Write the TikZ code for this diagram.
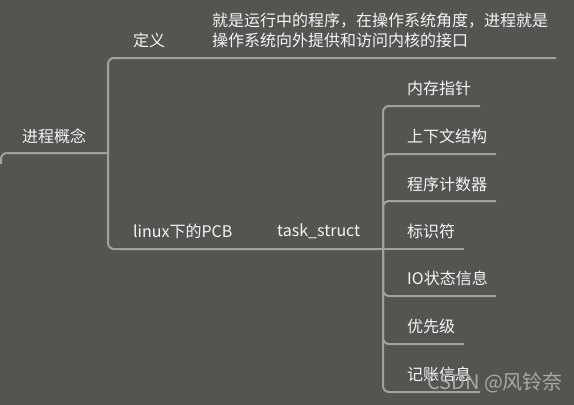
\documentclass[tikz,border=0pt]{standalone}
\usepackage{fontspec}
\setmainfont{Noto Sans CJK SC}
\definecolor{bgc}{HTML}{545551}
\definecolor{linec}{HTML}{A0A29E}
\definecolor{txtc}{HTML}{F4F4F4}
\definecolor{wmc}{HTML}{A9AAA7}
\begin{document}
\begin{tikzpicture}[x=1pt,y=-1pt,
  conn/.style={draw=linec,line width=2pt,rounded corners=6pt},
  lbl/.style={anchor=west,inner sep=0pt,text=txtc,font=\fontsize{16}{20}\selectfont}]
\fill[bgc] (0,0) rectangle (574,405);
\useasboundingbox (0,0) rectangle (574,405);
% root
\node[lbl] (root) at (22,136) {进程概念};
\coordinate (rs) at (1,164);
\coordinate (J1) at (108,153);
\draw[conn] (rs) |- (J1);
% definition branch
\node[lbl] (def) at (133,40) {定义};
\node[lbl,align=left] (deftext) at (212,30) {就是运行中的程序，在操作系统角度，进程就是\\操作系统向外提供和访问内核的接口};
\coordinate (defend) at (556,58);
\draw[conn] (J1) |- (defend);
% PCB branch
\node[lbl] (pcb) at (133,231) {linux下的PCB};
\node[lbl] (task) at (277,231) {task\_struct};
\coordinate (J2) at (383,249);
\draw[conn] (J1) |- (J2);
% children
\node[lbl] (c1) at (407,88) {内存指针};
\node[lbl] (c2) at (407,136) {上下文结构};
\node[lbl] (c3) at (407,184) {程序计数器};
\node[lbl] (c4) at (407,231) {标识符};
\node[lbl] (c5) at (407,278) {IO状态信息};
\node[lbl] (c6) at (407,326) {优先级};
\node[lbl] (c7) at (407,374) {记账信息};
\coordinate (e1) at (480,106);
\coordinate (e2) at (496,154);
\coordinate (e3) at (496,201);
\coordinate (e4) at (464,249);
\coordinate (e5) at (496,296);
\coordinate (e6) at (464,344);
\coordinate (e7) at (480,392);
\foreach \e in {e1,e2,e3,e5,e6,e7} \draw[conn] (J2) |- (\e);
\draw[conn] (J2) -- (e4);
% watermark
\node[anchor=west,inner sep=0pt,text=wmc,font=\fontsize{20}{22}\selectfont] (wm) at (427,383) {CSDN @风铃奈};
\end{tikzpicture}
\end{document}
